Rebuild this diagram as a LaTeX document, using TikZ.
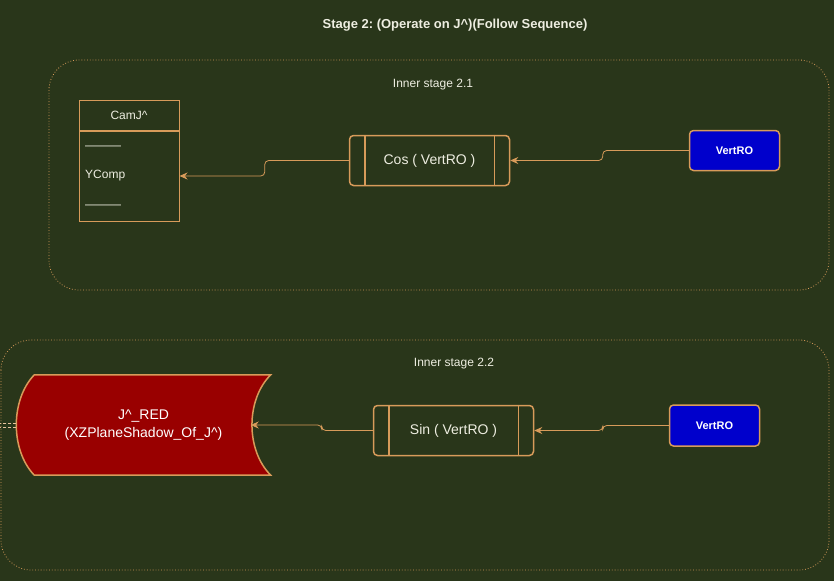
\documentclass[tikz,border=0pt]{standalone}
\usepackage{fontspec}
\setmainfont{Liberation Sans}
\usetikzlibrary{arrows.meta}
\frenchspacing

\definecolor{bg}{RGB}{41,54,26}
\definecolor{edge}{RGB}{215,155,90}
\definecolor{txt}{RGB}{238,238,225}
\definecolor{vblue}{RGB}{0,0,204}
\definecolor{jred}{RGB}{153,0,0}

\begin{document}
\begin{tikzpicture}[x=1pt,y=-1pt,
  stage/.style={draw=edge,dotted,line width=0.8pt,rounded corners=30pt},
  proc/.style={draw=edge,line width=1.5pt,rounded corners=4pt,minimum width=160pt,minimum height=50pt,text=txt,font=\fontsize{14}{16}\selectfont},
  vert/.style={draw=edge,fill=vblue,line width=1.5pt,rounded corners=4pt,minimum width=90pt,minimum height=40pt,text=white,font=\fontsize{11}{13}\selectfont\bfseries},
  tab/.style={draw=edge,line width=1pt,minimum width=100pt},
  conn/.style={draw=edge,line width=0.8pt,-{Stealth[length=8pt,width=7pt]},rounded corners=4pt},
  lbl/.style={text=txt,font=\fontsize{12}{14}\selectfont}]
\fill[bg] (0,0) rectangle (834,581);
\useasboundingbox (0,0) rectangle (834,581);
\clip (0,0) rectangle (834,581);

\draw[stage,rounded corners=40pt] (-23,-23) rectangle (857,620);
\draw[stage] (49,60) rectangle (829,290);
\draw[stage] (1,340) rectangle (829,570);

\node[lbl,font=\fontsize{13}{15}\selectfont\bfseries] (title) at (455,25) {Stage 2: (Operate on J\textasciicircum)(Follow Sequence)};
\node[lbl] (in1) at (433,85) {Inner stage 2.1};
\node[lbl] (in2) at (454,364) {Inner stage 2.2};

% inner stage 2.1
\node[tab,lbl,minimum height=30pt] (cam) at (129,115) {CamJ\textasciicircum};
\node[tab,minimum height=90pt,anchor=north] (camb) at (cam.south) {};
\foreach \y/\t in {148/---------,176/YComp,207/---------}
  \node[lbl,anchor=west,inner sep=0pt] (row\y) at (85,\y) {\t};
\node[proc] (cos) at (429.5,160.5) {Cos ( VertRO )};
\node[vert] (vert1) at (734.5,150.5) {VertRO};

% inner stage 2.2
\node[minimum width=254pt,minimum height=100pt] (jred) at (143.5,425) {};
\draw[draw=edge,fill=jred,line width=1.5pt] ([xshift=18pt]jred.north west) -- (jred.north east)
  .. controls +(-25,25) and +(-25,-25) .. (jred.south east) -- ([xshift=18pt]jred.south west)
  .. controls +(-24,-25) and +(-24,25) .. ([xshift=18pt]jred.north west) -- cycle;
\node[lbl,font=\fontsize{14}{18}\selectfont,align=center,text=white] (jredlbl) at (jred.center) {J\textasciicircum\_RED\\(XZPlaneShadow\_Of\_J\textasciicircum)};
\node[proc] (sin) at (453.5,430.5) {Sin ( VertRO )};
\node[vert,minimum height=41pt] (vert2) at (714.5,425.5) {VertRO};

\foreach \n in {cos,sin} {
  \draw[edge,line width=1.5pt] ([xshift=16pt]\n.north west) -- ([xshift=16pt]\n.south west);
  \draw[edge,line width=1.5pt] ([xshift=-16pt]\n.north east) -- ([xshift=-16pt]\n.south east);
}

\draw[conn] (vert1.west) -- ++(-86,0) |- (cos.east);
\draw[conn] (cos.west) -- ++(-84,0) |- (camb.east);
\draw[conn] (vert2.west) -- ++(-66,0) |- (sin.east);
\draw[conn] (sin.west) -- ++(-51,0) |- ([xshift=-20pt]jred.east);
\draw[edge!60!white,dash pattern=on 3pt off 2pt] ([yshift=2pt]jred.west) -- ++(-18,0);
\draw[edge!60!white,dash pattern=on 3pt off 2pt] ([yshift=-2pt]jred.west) -- ++(-18,0);
\end{tikzpicture}
\end{document}
